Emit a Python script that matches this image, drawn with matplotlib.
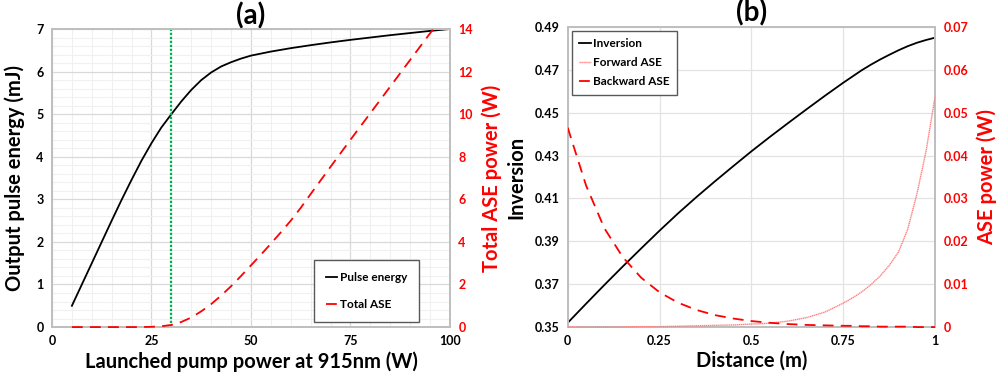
import matplotlib
matplotlib.use("Agg")
import matplotlib.pyplot as plt
from matplotlib.patches import Rectangle
from matplotlib.ticker import MultipleLocator, FormatStrFormatter, FuncFormatter
import numpy as np

plt.rcParams['font.family'] = ['Lato', 'DejaVu Sans']
plt.rcParams['font.weight'] = 'bold'

# (a) pulse energy and total ASE vs launched pump power
pump_w = [5, 7.5, 10, 12.5, 15, 17.5, 20, 22.5, 25, 27.5, 30, 32.5, 35, 37.5, 40, 42.5,
          45, 47.5, 50, 55, 60, 65, 70, 75, 80, 85, 90, 95, 100]
pulse_mj = [0.5, 1.0, 1.5, 2.0, 2.5, 2.99, 3.46, 3.91, 4.32, 4.69, 5.0, 5.3, 5.57, 5.8, 5.98,
            6.12, 6.22, 6.305, 6.375, 6.47, 6.55, 6.62, 6.685, 6.745, 6.8, 6.855, 6.905, 6.955, 7.0]
ase_pump_w = [5, 10, 15, 20, 22.5, 25, 27.5, 30, 32.5, 35, 37.5, 40, 42.5, 45, 47.5, 50,
              52.5, 55, 57.5, 60, 62.5, 65, 70, 75, 80, 85, 90, 95, 100]
total_ase_w = [0, 0, 0, 0, 0.003, 0.012, 0.04, 0.1, 0.24, 0.45, 0.74, 1.08, 1.48, 1.92, 2.4,
               2.9, 3.4, 3.92, 4.45, 5.0, 5.6, 6.25, 7.53, 8.8, 10.05, 11.3, 12.55, 13.8, 15.05]
marker_pump = 30

# (b) inversion and ASE along the fibre
dist_m = [0, 0.05, 0.1, 0.15, 0.2, 0.25, 0.3, 0.35, 0.4, 0.45, 0.5, 0.55, 0.6, 0.65, 0.7,
          0.75, 0.775, 0.8, 0.825, 0.85, 0.875, 0.9, 0.925, 0.95, 0.975, 1.0]
inversion = [0.352, 0.3609, 0.3697, 0.3783, 0.3867, 0.395, 0.403, 0.4106, 0.4179, 0.425,
             0.432, 0.4387, 0.4452, 0.4516, 0.4579, 0.464, 0.4669, 0.4698, 0.4724, 0.4748,
             0.477, 0.4791, 0.481, 0.4826, 0.4839, 0.485]
forward_ase = [0, 0, 0, 0, 0.0001, 0.0001, 0.0002, 0.0003, 0.0004, 0.0005, 0.0007, 0.0009,
               0.0014, 0.0022, 0.0035, 0.0056, 0.0068, 0.0082, 0.0099, 0.0119, 0.0144,
               0.0175, 0.0228, 0.031, 0.041, 0.054]
backward_ase = [0.0465, 0.033, 0.023, 0.0163, 0.0115, 0.0081, 0.0057, 0.004, 0.0028, 0.002,
                0.0014, 0.001, 0.0007, 0.0005, 0.0004, 0.0003, 0.0003, 0.0002, 0.0002,
                0.0001, 0.0001, 0.0001, 0.0001, 0, 0, 0]

inv_ticks = [0.35, 0.37, 0.39, 0.41, 0.43, 0.45, 0.47, 0.49]

RED = '#ff0000'
SPINE = '#bfbfbf'
LAB = dict(fontsize=14.5, fontweight='bold')

fig = plt.figure(figsize=(9.96, 3.79), dpi=100)
ax1 = fig.add_axes([0.0522, 0.137, 0.3996, 0.7865])
ax2 = fig.add_axes([0.570, 0.137, 0.369, 0.792])


def style(ax, right=False):
    for s in ax.spines.values():
        s.set_color(SPINE)
        s.set_linewidth(1.3)
    ax.tick_params(which='both', length=0, labelsize=9, pad=6)
    if right:
        ax.tick_params(colors=RED)


def clip_low(line, ax):
    # clip at the top of the axes only, so lines sitting on zero stay whole
    rect = Rectangle((0, -0.05), 1, 1.05, transform=ax.transAxes)
    line.set_clip_path(rect)


# panel (a)
ax1.plot(pump_w, pulse_mj, color='black', lw=1.3, label='Pulse energy')
ax1.axvline(marker_pump, color='#00b050', lw=1.6, ls=(0, (1.0, 0.8)))
ax1.set_xlim(0, 100)
ax1.set_ylim(0, 7)
ax1.xaxis.set_major_locator(MultipleLocator(25))
ax1.xaxis.set_minor_locator(MultipleLocator(5))
ax1.yaxis.set_major_locator(MultipleLocator(1))
ax1.yaxis.set_minor_locator(MultipleLocator(0.2))
ax1.grid(which='major', color='#d9d9d9', lw=0.9)
ax1.grid(which='minor', color='#f0f0f0', lw=0.8)
ax1.set_axisbelow(True)
ax1.set_xlabel('Launched pump power at 915nm (W)', labelpad=3, **LAB)
ax1.set_ylabel('Output pulse energy (mJ)', labelpad=8, **LAB)
ax1.set_title('(a)', fontsize=20, fontweight='bold', pad=1)
style(ax1)

ax1r = ax1.twinx()
ln, = ax1r.plot(ase_pump_w, total_ase_w, color=RED, lw=1.3, ls=(0, (6, 4)),
                label='Total ASE', zorder=3)
clip_low(ln, ax1r)
ax1r.set_ylim(0, 14)
ax1r.yaxis.set_major_locator(MultipleLocator(2))
ax1r.set_ylabel('Total ASE power (W)', color=RED, labelpad=6, **LAB)
style(ax1r, right=True)

h1, l1 = ax1.get_legend_handles_labels()
h2, l2 = ax1r.get_legend_handles_labels()
leg = ax1r.legend(h1 + h2, l1 + l2, loc='lower right', bbox_to_anchor=(0.922, 0.017),
                  borderaxespad=0, prop=dict(size=8.5, weight='bold'), handlelength=1.0,
                  handletextpad=0.2, labelspacing=1.4, borderpad=1.0, fancybox=False,
                  framealpha=1, edgecolor='#595959')
leg.get_frame().set_linewidth(1.0)
leg.set_zorder(5)

# panel (b)
ax2.plot(dist_m, inversion, color='black', lw=1.3, label='Inversion')
ax2.set_xlim(0, 1)
ax2.set_ylim(0.35, 0.49)
ax2.xaxis.set_major_locator(MultipleLocator(0.25))
ax2.set_yticks(inv_ticks)
ax2.xaxis.set_major_formatter(FuncFormatter(lambda v, p: format(v, 'g')))
ax2.yaxis.set_major_formatter(FormatStrFormatter('%.2f'))
ax2.grid(which='major', color='#e3e3e3', lw=0.9)
ax2.set_axisbelow(True)
ax2.set_xlabel('Distance (m)', labelpad=2, **LAB)
ax2.set_ylabel('Inversion', labelpad=6, **LAB)
ax2.set_title('(b)', fontsize=20, fontweight='bold', pad=1)
style(ax2)

ax2r = ax2.twinx()
ln, = ax2r.plot(dist_m, forward_ase, color='#ff8080', lw=1.0, ls=(0, (1, 0.4)),
                label='Forward ASE', zorder=3)
clip_low(ln, ax2r)
ln, = ax2r.plot(dist_m, backward_ase, color=RED, lw=1.3, ls=(0, (6, 4)),
                label='Backward ASE', zorder=3)
clip_low(ln, ax2r)
ax2r.set_ylim(0, 0.07)
ax2r.yaxis.set_major_locator(MultipleLocator(0.01))
ax2r.yaxis.set_major_formatter(FuncFormatter(lambda v, p: format(round(v, 2), 'g')))
ax2r.set_ylabel('ASE power (W)', color=RED, labelpad=6, **LAB)
style(ax2r, right=True)

h1, l1 = ax2.get_legend_handles_labels()
h2, l2 = ax2r.get_legend_handles_labels()
leg = ax2r.legend(h1 + h2, l1 + l2, loc='upper left', bbox_to_anchor=(0.011, 0.987),
                  borderaxespad=0, prop=dict(size=8.5, weight='bold'), handlelength=1.0,
                  handletextpad=0.2, labelspacing=0.7, borderpad=0.6, fancybox=False,
                  framealpha=1, edgecolor='#595959')
leg.get_frame().set_linewidth(1.0)
leg.set_zorder(5)

fig.savefig('out.png', dpi=100)
